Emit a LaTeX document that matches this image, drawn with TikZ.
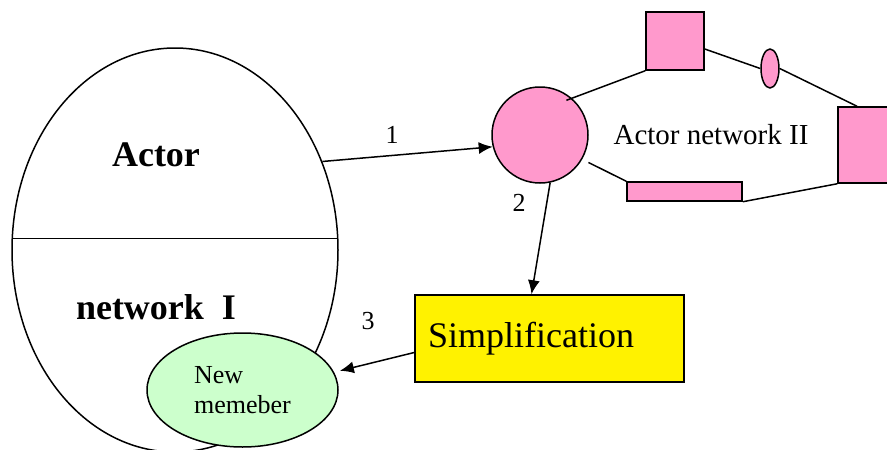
\documentclass[tikz,border=0pt]{standalone}
\usepackage{fontspec}
\setmainfont{Liberation Serif}
\usetikzlibrary{shapes.geometric, arrows.meta}
\definecolor{pinkfill}{HTML}{FF99CC}
\definecolor{greenfill}{HTML}{CCFFCC}
\tikzset{>={Latex[length=14pt, width=12pt]},
    pinkbox/.style={draw, fill=pinkfill, inner sep=0pt},
    numtag/.style={font=\fontsize{26}{30}\selectfont}}

\begin{document}
\begin{tikzpicture}[x=1pt, y=-1pt, line width=1.5pt]
    \useasboundingbox (0,0) rectangle (887,450);
    \clip (0,0) rectangle (887,450);
    \node[draw, ellipse, minimum width=326pt, minimum height=404pt, inner sep=0pt] (actor) at (175,250) {};
    \draw (actor.176) -- (actor.4);
    \node[font=\fontsize{36}{40}\selectfont\bfseries] (actortxt) at (156,155) {Actor};
    \node[font=\fontsize{36}{40}\selectfont\bfseries] (nettxt) at (156,307) {network~~I};
    \node[draw, ellipse, fill=greenfill, minimum width=191pt, minimum height=114pt, inner sep=0pt,
        align=left, font=\fontsize{26}{30}\selectfont] (newm) at (242.5,390) {New\\memeber};
    \node[draw, fill=yellow, minimum height=87pt, text width=243pt, inner xsep=13pt, align=left,
        font=\fontsize{36}{40}\selectfont] (simp) at (549.5,338.5) {Simplification};
    \node[pinkbox, circle, minimum size=96pt] (hub) at (540,135) {};
    \node[pinkbox, minimum width=58pt, minimum height=58pt] (sqa) at (675,41) {};
    \node[pinkbox, ellipse, minimum width=18pt, minimum height=39pt] (oval) at (770,68.5) {};
    \node[pinkbox, minimum width=76pt, minimum height=76pt] (sqb) at (876,145) {};
    \node[pinkbox, minimum width=115pt, minimum height=19pt] (bar) at (684.5,191.5) {};
    \node[font=\fontsize{29}{32}\selectfont] (net2) at (711,135) {Actor network II};
    \draw[shorten <=-6pt] (hub.49) -- (sqa.south west);
    \draw ([yshift=-8pt]sqa.east) -- (oval.west);
    \draw (oval.east) -- ([xshift=-19pt]sqb.north);
    \draw[shorten <=7pt] (hub.-30) -- (bar.north west);
    \draw (bar.south east) -- (sqb.south west);
    \draw[->] (actor.31) -- (hub.194);
    \draw[->] (hub.282) -- ([xshift=-18pt]simp.north);
    \draw[->, shorten >=6pt] ([yshift=-14pt]simp.west) -- (newm.11);
    \node[numtag] (n1) at (392,135) {1};
    \node[numtag] (n2) at (519,203) {2};
    \node[numtag] (n3) at (368,321) {3};
\end{tikzpicture}
\end{document}
